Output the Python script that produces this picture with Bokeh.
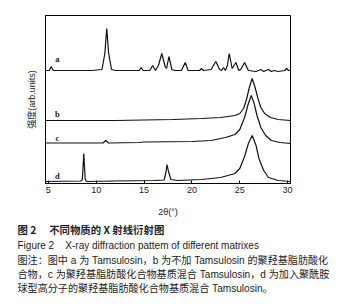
from bokeh.plotting import figure
from bokeh.models import Range1d, Label, FixedTicker, Title
from bokeh.embed import file_html
from bokeh.resources import INLINE

# ---- data (2θ in degrees, stacked intensity in arb. units) ----
a_x = [4.7, 5.1, 5.3, 5.5, 9.5, 10.6, 10.9, 11.1, 11.3, 11.6, 12.0, 14.5, 14.7, 14.9,
       15.6, 15.9, 16.2, 16.5, 16.85, 17.2, 17.35, 17.6, 17.9, 18.2, 18.9, 19.3, 19.6,
       20.8, 21.0, 21.2, 22.0, 22.5, 22.9, 23.1, 23.3, 23.5, 23.7, 23.9, 24.2, 24.6,
       24.9, 25.1, 25.5, 25.9, 26.7, 27.2, 27.5, 28.0, 28.3, 28.6, 29.0, 29.7, 29.9,
       30.1, 30.3]
a_y = [113, 113, 117, 113, 113, 114, 130, 155, 130, 114, 113, 113, 116, 113,
       113, 118, 113, 118, 130, 117, 115, 127, 114, 113, 113, 121, 113,
       113, 115, 113, 114, 122, 114, 113, 116, 113, 118, 130, 115, 121,
       113, 114, 121, 113, 112, 114, 112, 114, 112, 113, 112, 113, 115,
       113, 113]

b_x = [4.7, 12.0, 18.0, 21.0, 23.0, 24.5, 25.0, 25.4, 25.7, 26.0, 26.3, 26.6, 26.9,
       27.2, 27.6, 28.2, 29.0, 30.3]
b_y = [63, 63, 64, 65, 66, 68, 70, 75, 84, 96, 105, 96, 85, 76, 70, 66, 64, 63]

c_x = [4.7, 10.7, 11.0, 11.3, 14.5, 15.0, 20.0, 22.0, 23.5, 24.5, 25.0, 25.5, 25.9,
       26.2, 26.5, 26.8, 27.2, 27.7, 28.3, 29.2, 30.3]
c_y = [40.5, 40.5, 43, 40.5, 41, 41.5, 42, 43, 46, 49, 54, 66, 80, 88, 80, 68, 56,
       48, 43, 41, 40]

d_x = [4.7, 8.4, 8.55, 8.7, 8.85, 9.0, 12.0, 16.0, 17.1, 17.3, 17.4, 17.55, 17.8,
       18.5, 21.0, 23.0, 24.5, 25.0, 25.5, 25.9, 26.3, 26.7, 27.0, 27.5, 28.0, 29.0,
       30.3]
d_y = [2, 2.5, 4, 30, 4, 2, 2.5, 3, 3.5, 12, 19, 12, 4, 3, 4, 6, 10, 15, 27, 40, 48,
       38, 25, 13, 6, 3, 2]

series_names = ["a", "b", "c", "d"]
name_y = [125, 70, 46, 8]
x_ticks = [5, 10, 15, 20, 25, 30]

captions = [
    "图 2\u3000 不同物质的 X 射线衍射图",
    "Figure 2\u00a0\u00a0\u00a0\u00a0X-ray diffraction pattem of different matrixes",
    "图注：图中 a 为 Tamsulosin，b 为不加 Tamsulosin 的聚羟基脂肪酸化",
    "合物，c 为聚羟基脂肪酸化合物基质混合 Tamsulosin，d 为加入聚酰胺",
    "球型高分子的聚羟基脂肪酸化合物基质混合 Tamsulosin。",
]

MIX = "Liberation Sans, Noto Sans CJK SC"

p = figure(width=346, height=303, output_backend="svg", toolbar_location=None,
           x_range=Range1d(4.7, 30.3), y_range=Range1d(0, 168),
           min_border_left=45, min_border_right=56, min_border_top=15,
           min_border_bottom=120)
p.background_fill_color = "white"
p.border_fill_color = "white"
p.outline_line_color = "black"
p.outline_line_width = 1
p.grid.visible = False

for xs, ys in [(a_x, a_y), (b_x, b_y), (c_x, c_y), (d_x, d_y)]:
    p.line(xs, ys, line_color="#111111", line_width=1.2)

for nm, yy in zip(series_names, name_y):
    p.add_layout(Label(x=5.95, y=yy, text=nm, text_font="Liberation Serif",
                       text_font_style="bold", text_font_size="8.5px",
                       text_color="#222222", text_align="center",
                       text_baseline="middle"))

# axes
p.xaxis.ticker = FixedTicker(ticks=x_ticks)
p.xaxis.minor_tick_line_color = None
p.xaxis.major_tick_in = 3
p.xaxis.major_tick_out = 0
p.xaxis.axis_line_color = "black"
p.xaxis.major_label_text_font = "Liberation Sans"
p.xaxis.major_label_text_font_size = "9px"
p.xaxis.major_label_text_color = "#222222"
p.xaxis.major_label_standoff = 3
p.xaxis.axis_label = "2θ(°)"
p.xaxis.axis_label_text_font = "Liberation Sans"
p.xaxis.axis_label_text_font_size = "9px"
p.xaxis.axis_label_text_font_style = "normal"
p.xaxis.axis_label_text_color = "#222222"
p.xaxis.axis_label_standoff = 11

p.yaxis.ticker = FixedTicker(ticks=[])
p.yaxis.minor_tick_line_color = None
p.yaxis.major_tick_line_color = None
p.yaxis.axis_line_color = "black"
p.yaxis.axis_label = "强度(arb.units)"
p.yaxis.axis_label_text_font = MIX
p.yaxis.axis_label_text_font_size = "9px"
p.yaxis.axis_label_text_font_style = "normal"
p.yaxis.axis_label_text_color = "#222222"
p.yaxis.axis_label_standoff = 9

fonts = ["Noto Sans CJK SC", "Liberation Sans", MIX, MIX, MIX]
sizes = ["10.4px", "10px", "10.1px", "10.1px", "10.1px"]
standoffs = [0, 3, 0.5, 0.5, 0.5]
for i, txt in enumerate(captions):
    p.add_layout(Title(text=txt, align="left", offset=-28,
                       standoff=standoffs[i],
                       text_font=fonts[i], text_font_size=sizes[i],
                       text_font_style="bold" if i == 0 else "normal",
                       text_color="#222222"), "below")

open("out.html", "w").write(file_html(p, INLINE))
